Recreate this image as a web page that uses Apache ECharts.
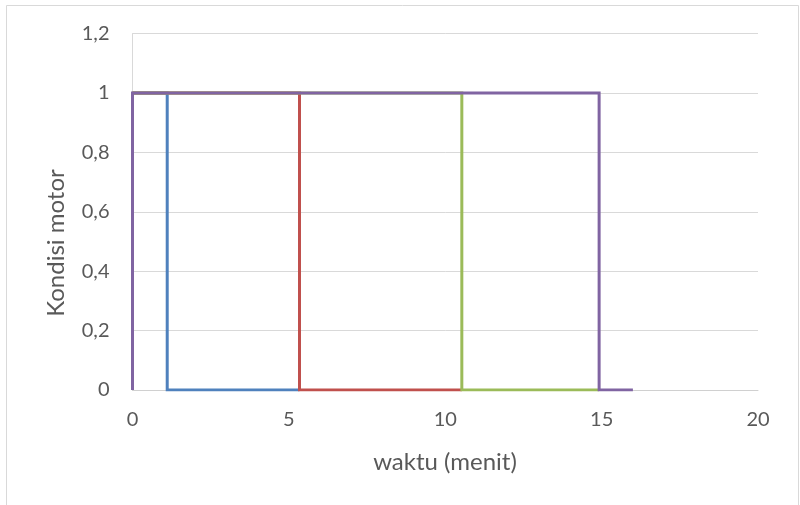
<!DOCTYPE html>
<html>
<head>
<meta charset="utf-8">
<script src="https://cdn.jsdelivr.net/npm/echarts@6/dist/echarts.min.js"></script>
<style>
html,body{margin:0;padding:0;background:#fff;}
#chart{width:800px;height:505px;}
</style>
</head>
<body>
<div id="chart"></div>
<script>
// Data
const seriesNames = ['Motor 1', 'Motor 2', 'Motor 3', 'Motor 4'];
const motor1X = [0, 1.11, 1.11, 5.34];
const motor1Y = [1, 1, 0, 0];
const motor2X = [0, 5.34, 5.34, 10.53];
const motor2Y = [1, 1, 0, 0];
const motor3X = [0, 10.53, 10.53, 14.92];
const motor3Y = [1, 1, 0, 0];
const motor4X = [0, 0, 14.92, 14.92, 16];
const motor4Y = [0, 1, 1, 0, 0];
const xTicks = [0, 5, 10, 15, 20];
const yTicks = [0, 0.2, 0.4, 0.6, 0.8, 1, 1.2];
const colors = ['#4F81BD', '#C0504D', '#9BBB59', '#8064A2'];

function zip(xs, ys) { return xs.map((x, i) => [x, ys[i]]); }
const allData = [zip(motor1X, motor1Y), zip(motor2X, motor2Y), zip(motor3X, motor3Y), zip(motor4X, motor4Y)];

const textColor = '#595959';
const fontFamily = 'Lato, "Open Sans", sans-serif';

const chart = echarts.init(document.getElementById('chart'));
chart.setOption({
  animation: false,
  backgroundColor: '#fff',
  grid: { left: 132.5, right: 42, top: 33.5, bottom: 115, containLabel: false },
  xAxis: {
    type: 'value',
    min: xTicks[0], max: xTicks[xTicks.length - 1], interval: xTicks[1] - xTicks[0],
    axisLine: { show: true, onZero: false, lineStyle: { color: '#d0d0d0', width: 1 } },
    axisTick: { show: false },
    splitLine: { show: false },
    axisLabel: { color: textColor, fontSize: 20, fontFamily: fontFamily, margin: 20 }
  },
  yAxis: {
    type: 'value',
    min: yTicks[0], max: yTicks[yTicks.length - 1], interval: 0.2,
    axisLine: { show: true, lineStyle: { color: '#d9d9d9', width: 1 } },
    axisTick: { show: false },
    splitLine: { show: true, lineStyle: { color: '#d9d9d9', width: 1 } },
    axisLabel: {
      color: textColor, fontSize: 20, fontFamily: fontFamily, margin: 23,
      formatter: v => String(Math.round(v * 10) / 10).replace('.', ',')
    }
  },
  graphic: [
    { type: 'rect', silent: true, z: -1, shape: { x: 6.5, y: 5.5, width: 792, height: 520 },
      style: { fill: 'none', stroke: '#d9d9d9', lineWidth: 1 } },
    { type: 'text', x: 445, y: 462, style: { text: 'waktu (menit)', fill: textColor, fontSize: 24, fontFamily: fontFamily, align: 'center', verticalAlign: 'middle' } },
    { type: 'text', x: 56, y: 243, rotation: Math.PI / 2, style: { text: 'Kondisi motor', fill: textColor, fontSize: 24, fontFamily: fontFamily, align: 'center', verticalAlign: 'middle' } }
  ],
  series: allData.map((d, i) => ({
    name: seriesNames[i],
    type: 'line',
    data: d,
    showSymbol: false,
    symbol: 'none',
    lineStyle: { color: colors[i], width: 3, join: 'miter', cap: 'butt' },
    itemStyle: { color: colors[i] },
    z: 2 + i
  }))
});
</script>
</body>
</html>
